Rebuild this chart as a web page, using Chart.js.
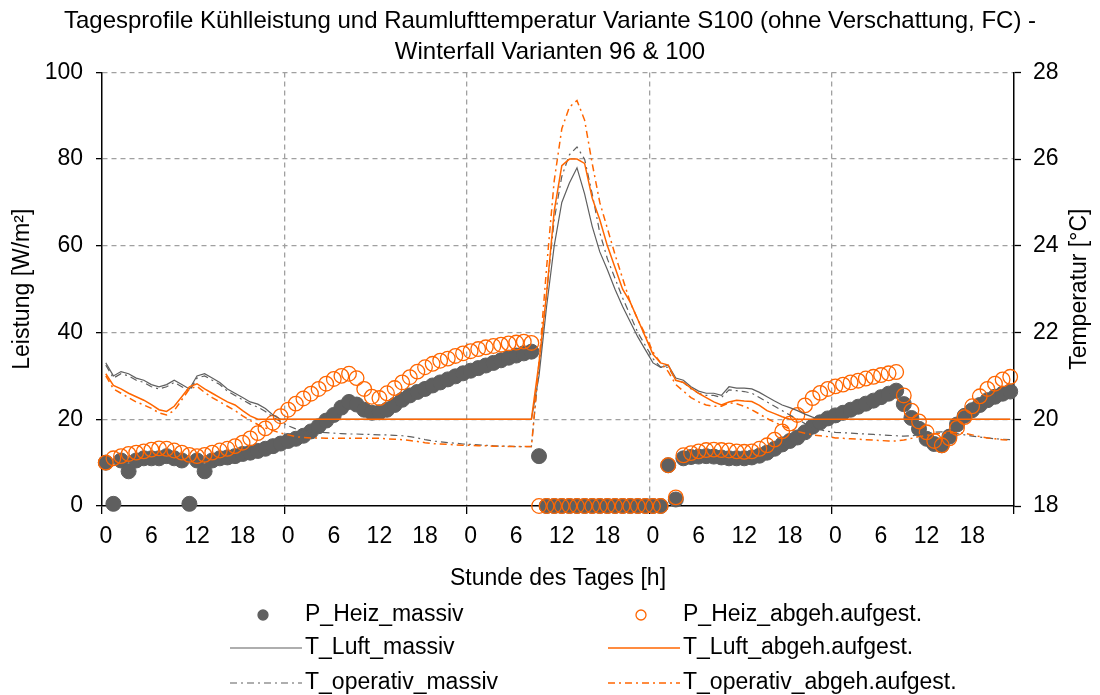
<!DOCTYPE html>
<html>
<head>
<meta charset="utf-8">
<script src="https://cdn.jsdelivr.net/npm/chart.js@4.4.0/dist/chart.umd.min.js"></script>
<style>
  body { margin: 0; background: #fff; }
</style>
</head>
<body>
<canvas id="chart" width="1100" height="695"></canvas>
<script>
// Titles
const titleLines = ['Tagesprofile Kühlleistung und Raumlufttemperatur Variante S100 (ohne Verschattung, FC) -', 'Winterfall Varianten 96 & 100'];
const xTitle = 'Stunde des Tages [h]';
const yLeftTitle = 'Leistung [W/m²]';
const yRightTitle = 'Temperatur [°C]';

// 5 days x 24 hours, labels are hour of day
const hours = [];
for (let d = 0; d < 5; d++) {
    for (let h = 0; h < 24; h++) hours.push(h);
}

// Heating power [W/m²]
const pHeizMassiv = [
    10, 0.5, 10.5, 8, 10.5, 11, 11, 11, 11.5, 11, 10.5, 0.5, 10.5, 8, 10.5, 11, 11.2, 11.5, 12, 12.3, 12.7, 13.2, 13.8, 14.4,
    15, 15.5, 16.2, 17.2, 18.4, 19.7, 21.0, 22.7, 24.0, 23.4, 22.2, 21.5, 21.6, 22.2, 23.3, 24.5, 25.5, 26.3, 27.0, 27.8, 28.5, 29.2, 29.9, 30.6,
    31.2, 31.8, 32.4, 33.0, 33.6, 34.2, 34.7, 35.2, 35.6, 11.5, 0, 0, 0, 0, 0, 0, 0, 0, 0, 0, 0, 0, 0, 0,
    0, 0, 9.4, 1.5, 11.0, 11.3, 11.4, 11.5, 11.4, 11.2, 11.0, 11.0, 11.0, 11.2, 11.6, 12.3, 13.2, 14.2, 15.0, 15.8, 17.0, 18.3, 19.3, 20.2,
    20.9, 21.5, 22.2, 22.9, 23.6, 24.3, 25.1, 25.9, 26.6, 23.5, 20.3, 17.8, 15.5, 14.3, 14.0, 16.0, 18.8, 20.8, 22.1, 23.3, 24.4, 25.2, 25.9, 26.4
];
const pHeizAbgeh = [
    10, 11, 11.5, 12, 12.3, 12.6, 13, 13.3, 13.2, 12.8, 12.3, 11.8, 11.5, 11.8, 12.3, 12.8, 13.2, 13.8, 14.6, 15.6, 16.8, 17.9, 19.2, 20.7,
    22.2, 23.6, 24.8, 25.9, 27.0, 28.2, 29.3, 30.0, 30.5, 29.5, 27.0, 25.2, 24.9, 26.0, 27.2, 28.5, 29.7, 31.0, 32.0, 32.8, 33.5, 34.0, 34.6, 35.2,
    35.7, 36.2, 36.6, 36.9, 37.2, 37.5, 37.7, 37.9, 37.6, 0, 0, 0, 0, 0, 0, 0, 0, 0, 0, 0, 0, 0, 0, 0,
    0, 0, 9.4, 2.0, 11.7, 12.2, 12.6, 12.9, 13.0, 12.9, 12.8, 12.6, 12.5, 12.6, 13.2, 14.0, 15.3, 17.2, 19.0, 21.0, 23.2, 24.9, 26.1, 27.0,
    27.6, 28.0, 28.5, 28.9, 29.4, 29.8, 30.2, 30.6, 30.9, 25.5, 22.0, 19.5, 17.0, 15.0, 14.0, 15.6, 18.0, 20.5, 23.0, 25.3, 27.0, 28.2, 29.2, 29.8
];

// Temperatures [°C]
const tLuftMassiv = [
    21.3, 21.0, 21.1, 21.05, 20.95, 20.9, 20.8, 20.75, 20.8, 20.9, 20.8, 20.7, 21.0, 21.05, 20.95, 20.85, 20.7, 20.6, 20.5, 20.4, 20.35, 20.25, 20.1, 20.0,
    20, 20, 20, 20, 20, 20, 20, 20, 20, 20, 20, 20, 20, 20, 20, 20, 20, 20, 20, 20, 20, 20, 20, 20,
    20, 20, 20, 20, 20, 20, 20, 20, 20, 21.0, 22.6, 24.0, 25.0, 25.45, 25.8, 25.2, 24.45, 23.86, 23.45, 23.0, 22.6, 22.25, 21.9, 21.6,
    21.3, 21.2, 21.25, 20.95, 20.9, 20.75, 20.65, 20.6, 20.6, 20.55, 20.75, 20.72, 20.72, 20.7, 20.62, 20.52, 20.42, 20.33, 20.27, 20.2, 20.12, 20.05, 20.0, 20.0,
    20, 20, 20, 20, 20, 20, 20, 20, 20, 20, 20, 20, 20, 20, 20, 20, 20, 20, 20, 20, 20, 20, 20, 20
];
const tLuftAbgeh = [
    21.05, 20.78, 20.7, 20.6, 20.52, 20.44, 20.34, 20.22, 20.18, 20.3, 20.52, 20.75, 20.82, 20.7, 20.6, 20.5, 20.4, 20.33, 20.2, 20.08, 20.0, 20.0, 20.0, 20.0,
    20, 20, 20, 20, 20, 20, 20, 20, 20, 20, 20, 20, 20, 20, 20, 20, 20, 20, 20, 20, 20, 20, 20, 20,
    20, 20, 20, 20, 20, 20, 20, 20, 20, 21.3, 22.9, 24.8, 25.85, 26.0, 26.0, 25.9, 25.1, 24.6, 24.0, 23.5, 23.0, 22.7, 22.3, 21.9,
    21.5, 21.3, 21.25, 20.9, 20.85, 20.72, 20.6, 20.5, 20.4, 20.33, 20.4, 20.44, 20.42, 20.41, 20.32, 20.2, 20.13, 20.06, 20.0, 20.0, 20.0, 20.0, 20.0, 20.0,
    20, 20, 20, 20, 20, 20, 20, 20, 20, 20, 20, 20, 20, 20, 20, 20, 20, 20, 20, 20, 20, 20, 20, 20
];
const tOpMassiv = [
    21.25, 20.95, 21.05, 21.0, 20.9, 20.85, 20.75, 20.7, 20.75, 20.85, 20.75, 20.65, 20.95, 21.0, 20.9, 20.8, 20.65, 20.55, 20.45, 20.35, 20.28, 20.18, 20.05, 19.95,
    19.85, 19.78, 19.74, 19.71, 19.7, 19.69, 19.68, 19.67, 19.66, 19.66, 19.65, 19.65, 19.64, 19.64, 19.63, 19.62, 19.6, 19.57, 19.53, 19.5, 19.48, 19.46, 19.45, 19.43,
    19.42, 19.41, 19.4, 19.39, 19.38, 19.38, 19.37, 19.37, 19.37, 21.2, 22.9, 24.6, 25.6, 26.1, 26.28, 26.0, 25.2, 24.3, 23.7, 23.25, 22.8, 22.4, 22.0, 21.7,
    21.4, 21.2, 21.2, 20.9, 20.85, 20.7, 20.6, 20.55, 20.55, 20.5, 20.68, 20.66, 20.64, 20.6, 20.5, 20.4, 20.3, 20.2, 20.1, 20.0, 19.9, 19.82, 19.76, 19.72,
    19.7, 19.69, 19.68, 19.67, 19.66, 19.65, 19.64, 19.63, 19.62, 19.61, 19.62, 19.64, 19.67, 19.7, 19.71, 19.7, 19.67, 19.64, 19.61, 19.59, 19.57, 19.55, 19.54, 19.53
];
const tOpAbgeh = [
    21.0, 20.7, 20.6, 20.5, 20.4, 20.33, 20.25, 20.15, 20.1, 20.2, 20.45, 20.7, 20.76, 20.62, 20.5, 20.4, 20.3, 20.2, 20.08, 19.97, 19.88, 19.8, 19.74, 19.68,
    19.64, 19.6, 19.58, 19.57, 19.57, 19.56, 19.56, 19.56, 19.56, 19.56, 19.56, 19.56, 19.56, 19.55, 19.54, 19.53, 19.51, 19.49, 19.46, 19.44, 19.43, 19.42, 19.41, 19.4,
    19.4, 19.39, 19.39, 19.38, 19.38, 19.37, 19.37, 19.37, 19.37, 21.3, 23.5, 25.5, 26.7, 27.2, 27.35, 26.9, 25.9, 25.0, 24.4, 23.8, 23.25, 22.7, 22.3, 21.95,
    21.55, 21.3, 21.1, 20.8, 20.65, 20.5, 20.4, 20.33, 20.3, 20.3, 20.38, 20.36, 20.3, 20.22, 20.12, 20.02, 19.93, 19.85, 19.78, 19.72, 19.68, 19.64, 19.62, 19.6,
    19.57, 19.56, 19.55, 19.54, 19.53, 19.52, 19.51, 19.5, 19.5, 19.52, 19.56, 19.6, 19.63, 19.66, 19.68, 19.69, 19.69, 19.68, 19.64, 19.6, 19.57, 19.55, 19.53, 19.52
];

const GRAY = '#5f5f5f';
const ORANGE = '#ff6600';
const GRID = '#a0a0a0';
const DASHDOT = [7, 4, 2, 4];
const FONT = '"Liberation Sans", Arial, sans-serif';

Chart.defaults.font.family = FONT;
Chart.defaults.font.size = 23;
Chart.defaults.color = '#000';

// Legend in two columns plus right axis title (rotated like the left one)
const customText = {
    id: 'customText',
    afterDraw(chart) {
        const ctx = chart.ctx;
        const area = chart.chartArea;
        ctx.save();
        ctx.font = '23px ' + FONT;
        ctx.fillStyle = '#000';
        ctx.translate(chart.scales.y2.right - 20, (area.top + area.bottom) / 2);
        ctx.rotate(-Math.PI / 2);
        ctx.textAlign = 'center';
        ctx.textBaseline = 'middle';
        ctx.fillText(yRightTitle, 0, 0);
        ctx.restore();

        const cols = [{ mark: 263, x0: 230, x1: 302, text: 305 }, { mark: 641, x0: 608, x1: 680, text: 683 }];
        const rows = [615, 648, 683];
        ctx.save();
        ctx.font = '23px ' + FONT;
        ctx.textBaseline = 'middle';
        chart.data.datasets.forEach((ds, k) => {
            const col = cols[k % 2];
            const y = rows[Math.floor(k / 2)];
            if (ds.showLine === false) {
                ctx.beginPath();
                ctx.arc(col.mark, y, 5, 0, Math.PI * 2);
                ctx.fillStyle = ds.pointBackgroundColor;
                ctx.fill();
                ctx.lineWidth = 1.3;
                ctx.strokeStyle = ds.pointBorderColor;
                ctx.stroke();
            } else {
                ctx.beginPath();
                ctx.setLineDash(ds.borderDash || []);
                ctx.moveTo(col.x0, y);
                ctx.lineTo(col.x1, y);
                ctx.lineWidth = ds.borderWidth;
                ctx.strokeStyle = ds.borderColor;
                ctx.stroke();
                ctx.setLineDash([]);
            }
            ctx.fillStyle = '#000';
            ctx.fillText(ds.label, col.text, y);
        });
        ctx.restore();
    }
};

const ctx = document.getElementById('chart').getContext('2d');
const chart = new Chart(ctx, {
    type: 'line',
    data: {
        labels: hours,
        datasets: [
            {
                label: 'P_Heiz_massiv',
                data: pHeizMassiv,
                yAxisID: 'y',
                showLine: false,
                pointRadius: 7.5,
                pointBackgroundColor: GRAY,
                pointBorderColor: GRAY,
                pointBorderWidth: 1,
                clip: false,
                order: 6
            },
            {
                label: 'P_Heiz_abgeh.aufgest.',
                data: pHeizAbgeh,
                yAxisID: 'y',
                showLine: false,
                pointRadius: 7.3,
                pointBackgroundColor: 'rgba(0,0,0,0)',
                pointBorderColor: ORANGE,
                pointBorderWidth: 1.3,
                clip: false,
                order: 5
            },
            {
                label: 'T_Luft_massiv',
                data: tLuftMassiv,
                yAxisID: 'y2',
                borderColor: GRAY,
                borderWidth: 1.2,
                pointRadius: 0,
                order: 4
            },
            {
                label: 'T_Luft_abgeh.aufgest.',
                data: tLuftAbgeh,
                yAxisID: 'y2',
                borderColor: ORANGE,
                borderWidth: 1.5,
                pointRadius: 0,
                order: 2
            },
            {
                label: 'T_operativ_massiv',
                data: tOpMassiv,
                yAxisID: 'y2',
                borderColor: GRAY,
                borderWidth: 1.2,
                borderDash: DASHDOT,
                pointRadius: 0,
                order: 3
            },
            {
                label: 'T_operativ_abgeh.aufgest.',
                data: tOpAbgeh,
                yAxisID: 'y2',
                borderColor: ORANGE,
                borderWidth: 1.5,
                borderDash: DASHDOT,
                pointRadius: 0,
                order: 1
            }
        ]
    },
    options: {
        responsive: false,
        animation: false,
        layout: {
            padding: { top: 0, left: 0, right: 0, bottom: 95 }
        },
        plugins: {
            legend: { display: false },
            tooltip: { enabled: false },
            title: {
                display: true,
                text: titleLines,
                color: '#000',
                font: { size: 24, weight: 'normal', lineHeight: 1.3 },
                padding: { top: 6, bottom: 4 }
            }
        },
        elements: {
            line: { tension: 0 }
        },
        scales: {
            x: {
                type: 'category',
                offset: true,
                grid: {
                    offset: true,
                    color: c => (c.index !== undefined && c.index > 0 && c.index % 24 === 0) ? GRID : 'rgba(0,0,0,0)',
                    lineWidth: 1.3,
                    tickLength: 8,
                    tickWidth: 1.3,
                    tickColor: c => (c.index === undefined || c.index % 24 === 0) ? '#000' : 'rgba(0,0,0,0)'
                },
                border: { display: true, color: '#000', width: 1.5, dash: [5, 4] },
                ticks: {
                    autoSkip: false,
                    maxRotation: 0,
                    minRotation: 0,
                    padding: 9,
                    callback: (v, i) => (i % 6 === 0 ? String(hours[i]) : '')
                },
                title: {
                    display: true,
                    text: xTitle,
                    padding: { top: 0, bottom: 8 }
                },
                afterFit: s => { s.height = 94; }
            },
            y: {
                position: 'left',
                min: 0,
                max: 100,
                ticks: { stepSize: 20, padding: 13 },
                grid: {
                    color: c => (c.tick && c.tick.value > 0) ? GRID : 'rgba(0,0,0,0)',
                    lineWidth: 1.3,
                    tickLength: 6,
                    tickWidth: 1.3,
                    tickColor: '#000'
                },
                border: { display: true, color: '#000', width: 1.5, dash: [5, 4] },
                title: {
                    display: true,
                    text: yLeftTitle,
                    padding: { top: 9, bottom: 0 }
                },
                afterFit: s => { s.width = 102; }
            },
            y2: {
                position: 'right',
                min: 18,
                max: 28,
                ticks: { stepSize: 2, padding: 12 },
                grid: {
                    drawOnChartArea: false,
                    tickLength: 7,
                    tickWidth: 1.3,
                    tickColor: '#000'
                },
                border: { display: true, color: '#000', width: 1.5 },
                afterFit: s => { s.width = 86; }
            }
        }
    },
    plugins: [customText]
});
</script>
</body>
</html>
